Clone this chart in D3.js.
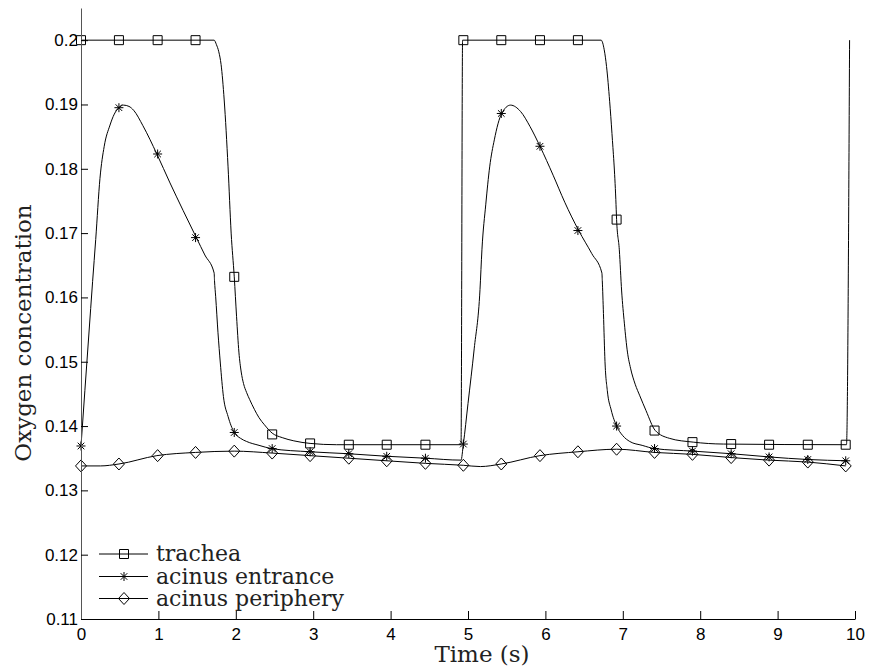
<!DOCTYPE html>
<html>
<head>
<meta charset="utf-8">
<script src="https://cdn.jsdelivr.net/npm/d3@7"></script>
<style>
  html, body { margin: 0; padding: 0; background: #fff; }
  svg { display: block; }
</style>
</head>
<body>
<svg id="chart" width="869" height="671"></svg>
<script>
// ---------- data ----------
const xTicks = [0,1,2,3,4,5,6,7,8,9,10];
const xTickLabels = ["0","1","2","3","4","5","6","7","8","9","10"];
const yTicks = [0.11,0.12,0.13,0.14,0.15,0.16,0.17,0.18,0.19,0.2];
const yTickLabels = ["0.11","0.12","0.13","0.14","0.15","0.16","0.17","0.18","0.19","0.2"];

const seriesNames = ["trachea","acinus entrance","acinus periphery"];
const seriesSymbols = ["square","star","diamond"];

// trachea curve
const tracheaT = [0,1.72,1.75,1.78,1.81,1.85,1.90,1.94,1.98,2.01,2.04,2.07,2.10,2.14,2.18,2.24,2.30,2.37,2.47,2.60,2.75,2.96,3.30,4.91,4.93,
                  6.72,6.76,6.79,6.83,6.86,6.91,6.92,6.955,6.985,7.02,7.06,7.10,7.16,7.22,7.30,7.42,7.60,7.91,8.30,9.89,9.93];
const tracheaV = [0.2,0.2,0.1993,0.1982,0.1962,0.1907,0.1803,0.1700,0.1632,0.1570,0.1515,0.1484,0.1466,0.1452,0.1441,0.1426,0.1413,0.1402,0.1389,0.1382,0.1377,0.1373,0.1371,0.1371,0.2,
                  0.2,0.1985,0.1959,0.1905,0.1855,0.1752,0.1721,0.1674,0.1610,0.1560,0.1515,0.1490,0.1465,0.1447,0.1424,0.1393,0.1381,0.1375,0.1372,0.1371,0.2];

// acinus entrance curve
const entranceT = [0,0.05,0.10,0.15,0.19,0.245,0.30,0.375,0.43,0.49,0.55,0.62,0.68,0.80,0.98,1.15,1.32,1.49,1.60,1.72,1.725,1.74,1.77,1.80,1.84,1.90,1.98,2.06,2.14,2.30,2.46,2.96,3.45,3.95,4.45,4.91,
                   4.94,5.00,5.08,5.155,5.18,5.23,5.28,5.34,5.435,5.55,5.68,5.80,5.93,6.10,6.25,6.43,6.60,6.73,6.735,6.75,6.77,6.80,6.85,6.92,7.00,7.09,7.25,7.41,7.91,8.40,8.89,9.39,9.90];
const entranceV = [0.1369,0.1455,0.1540,0.1625,0.1690,0.1785,0.1835,0.1868,0.1885,0.1895,0.1899,0.1897,0.1891,0.1867,0.1823,0.1778,0.1735,0.1693,0.1666,0.1638,0.1626,0.1601,0.1545,0.1498,0.1446,0.1415,0.1390,0.1381,0.1376,0.1370,0.1365,0.1360,0.1357,0.1353,0.1350,0.1347,
                   0.1372,0.1435,0.1520,0.1612,0.1674,0.1745,0.1803,0.1845,0.1886,0.1899,0.1889,0.1866,0.1835,0.1790,0.1748,0.1704,0.1668,0.1638,0.1626,0.1575,0.1500,0.1455,0.1425,0.1400,0.1385,0.1376,0.1370,0.1365,0.1361,0.1357,0.1352,0.1348,0.1346];

// acinus periphery curve
const peripheryT = [0,0.25,0.49,0.98,1.48,1.98,2.47,2.96,3.46,3.95,4.45,4.94,5.16,5.43,5.93,6.42,6.92,7.41,7.90,8.40,8.89,9.39,9.88];
const peripheryV = [0.1338,0.1338,0.1341,0.1354,0.1359,0.1361,0.1358,0.1354,0.1350,0.1346,0.1342,0.1339,0.1337,0.1341,0.1354,0.1360,0.1364,0.1359,0.1356,0.1351,0.1347,0.1344,0.1338];

// marker positions
const markerT = [0,0.49,0.99,1.48,1.98,2.47,2.96,3.46,3.95,4.45,4.94,5.43,5.93,6.42,6.92,7.41,7.90,8.40,8.89,9.39,9.88];
const tracheaMarkers   = [0.2,0.2,0.2,0.2,0.1632,0.1387,0.1373,0.1371,0.1371,0.1371,0.2,0.2,0.2,0.2,0.1721,0.1393,0.1375,0.1372,0.1371,0.1371,0.1371];
const entranceMarkers  = [0.1369,0.1895,0.1823,0.1693,0.1390,0.1365,0.1360,0.1357,0.1353,0.1350,0.1372,0.1886,0.1835,0.1704,0.1400,0.1365,0.1361,0.1357,0.1352,0.1348,0.1346];
const peripheryMarkers = [0.1338,0.1341,0.1354,0.1359,0.1361,0.1358,0.1354,0.1350,0.1346,0.1342,0.1339,0.1341,0.1354,0.1360,0.1364,0.1359,0.1356,0.1351,0.1347,0.1344,0.1338];

// ---------- drawing ----------
const svg = d3.select("#chart");
const x = d3.scaleLinear().domain([0,10]).range([81,855]);
const y = d3.scaleLinear().domain([0.11,0.205]).range([619,8]);

const symbolPath = {
  square: "M-4.5,-4.5h9v9h-9Z",
  diamond: "M0,-6L5.5,0L0,6L-5.5,0Z",
  star: "M-4.5,0H4.5M0,-4.5V4.5M-3.3,-3.3L3.3,3.3M-3.3,3.3L3.3,-3.3"
};

const line = d3.line().x(d => x(d[0])).y(d => y(d[1])).curve(d3.curveMonotoneX);

const curves = [
  {t: tracheaT, v: tracheaV, mv: tracheaMarkers, sym: seriesSymbols[0]},
  {t: entranceT, v: entranceV, mv: entranceMarkers, sym: seriesSymbols[1]},
  {t: peripheryT, v: peripheryV, mv: peripheryMarkers, sym: seriesSymbols[2]}
];

const plot = svg.append("g");
curves.forEach(c => {
  const pts = c.t.map((t,i) => [t, c.v[i]]);
  plot.append("path").attr("d", line(pts))
    .attr("fill","none").attr("stroke","#000").attr("stroke-width",1);
  plot.selectAll(null).data(markerT.map((t,i) => [t, c.mv[i]])).enter()
    .append("path")
    .attr("transform", d => `translate(${x(d[0])},${y(d[1])})`)
    .attr("d", symbolPath[c.sym])
    .attr("fill","none").attr("stroke","#000").attr("stroke-width",1);
});

// axes
const xAxis = d3.axisBottom(x).tickValues(xTicks).tickFormat((d,i) => xTickLabels[i])
  .tickSizeInner(-8).tickSizeOuter(0).tickPadding(9);
const gx = svg.append("g").attr("transform","translate(0,619)").call(xAxis);
gx.selectAll("text").attr("font-family","'Liberation Sans', Arial, sans-serif").attr("font-size",17).attr("fill","#000");
gx.selectAll("line, path").attr("stroke","#000");

const yAxis = d3.axisLeft(y).tickValues(yTicks).tickFormat((d,i) => yTickLabels[i])
  .tickSizeInner(-7).tickSizeOuter(0).tickPadding(3);
const gy = svg.append("g").attr("transform","translate(81,0)").call(yAxis);
gy.selectAll("text").attr("font-family","'Liberation Sans', Arial, sans-serif").attr("font-size",17).attr("fill","#000");
gy.selectAll("line").attr("stroke","#000");
gy.select("path.domain").attr("stroke","#555");

// axis titles
svg.append("text").attr("x",482).attr("y",662).attr("text-anchor","middle")
  .attr("font-family","'DejaVu Serif', serif").attr("font-size",23).attr("fill","#222")
  .text("Time (s)");
svg.append("text").attr("transform","translate(31,333) rotate(-90)").attr("text-anchor","middle")
  .attr("font-family","'DejaVu Serif', serif").attr("font-size",23).attr("fill","#222")
  .text("Oxygen concentration");

// legend
const legendY = [554, 576.5, 598.5];
const lg = svg.append("g");
seriesNames.forEach((name,i) => {
  const g = lg.append("g").attr("transform",`translate(0,${legendY[i]})`);
  g.append("line").attr("x1",99).attr("x2",148).attr("y1",0).attr("y2",0).attr("stroke","#000");
  g.append("path").attr("transform","translate(124,0)").attr("d",symbolPath[seriesSymbols[i]])
    .attr("fill","none").attr("stroke","#000");
  g.append("text").attr("x",156).attr("y",7).attr("font-family","'DejaVu Serif', serif")
    .attr("font-size",22).attr("fill","#222").text(name);
});
</script>
</body>
</html>
